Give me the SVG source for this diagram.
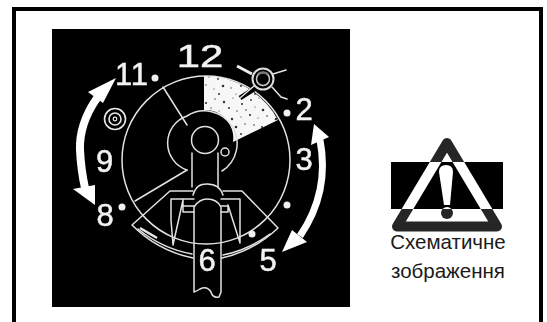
<svg xmlns="http://www.w3.org/2000/svg" width="547" height="322" viewBox="0 0 547 322">
<style>
.ln{fill:none;stroke:#e2e2e2;stroke-width:1.5;stroke-linejoin:round;stroke-linecap:round}
.num{font-family:"Liberation Sans",Arial,sans-serif;font-size:31px;fill:#f2f2f2;stroke:#f2f2f2;stroke-width:.5;text-anchor:middle}
.ar{fill:none;stroke:#fff;stroke-width:8}
.ah{fill:#fff}
.dot{fill:#f0f0f0}
.cap{font-family:"Liberation Sans",Arial,sans-serif;font-size:20.500px;fill:#1a1a1a;text-anchor:middle}
.gap{fill:none;stroke:#000;stroke-width:5}
</style>
<defs>
<filter id="soft" x="-5%" y="-5%" width="110%" height="110%"><feGaussianBlur stdDeviation="0.4"/></filter>
<pattern id="stip" width="62" height="48" patternUnits="userSpaceOnUse">
<rect width="62" height="48" fill="#f7f7f7"/>
<g fill="#333">
<circle cx="3" cy="4" r=".9"/><circle cx="11" cy="2" r=".6"/><circle cx="20" cy="7" r="1.100"/><circle cx="29" cy="3" r=".7"/><circle cx="38" cy="6" r="1.200"/><circle cx="47" cy="2" r=".6"/><circle cx="56" cy="8" r="1"/>
<circle cx="7" cy="11" r=".6"/><circle cx="15" cy="14" r="1.300"/><circle cx="25" cy="12" r=".7"/><circle cx="33" cy="15" r=".6"/><circle cx="43" cy="12" r="1"/><circle cx="51" cy="15" r=".7"/><circle cx="60" cy="14" r=".8"/>
<circle cx="2" cy="19" r="1.100"/><circle cx="10" cy="22" r=".6"/><circle cx="19" cy="20" r=".8"/><circle cx="28" cy="23" r="1.300"/><circle cx="36" cy="21" r=".7"/><circle cx="46" cy="23" r="1.200"/><circle cx="55" cy="21" r=".6"/>
<circle cx="6" cy="29" r=".8"/><circle cx="14" cy="31" r="1"/><circle cx="23" cy="29" r=".6"/><circle cx="32" cy="31" r=".9"/><circle cx="41" cy="29" r=".6"/><circle cx="50" cy="31" r="1.300"/><circle cx="59" cy="28" r=".7"/>
<circle cx="3" cy="38" r=".6"/><circle cx="11" cy="40" r="1.200"/><circle cx="20" cy="37" r=".7"/><circle cx="28" cy="41" r=".6"/><circle cx="37" cy="38" r="1.300"/><circle cx="45" cy="40" r=".7"/><circle cx="55" cy="38" r="1"/>
<circle cx="7" cy="46" r=".9"/><circle cx="17" cy="45" r=".6"/><circle cx="33" cy="46" r="1"/><circle cx="50" cy="46" r=".6"/>
</g>
</pattern>
<clipPath id="inRect"><rect x="391" y="162" width="112" height="47"/></clipPath>
</defs>
<rect width="547" height="322" fill="#fff"/>
<path id="frame" d="M14 322V9H541V322" fill="none" stroke="#000" stroke-width="4"/>
<rect x="52" y="29" width="298" height="278" fill="#000"/>
<g id="dial" filter="url(#soft)">
<circle class="ln" cx="206" cy="160" r="84"/>
<path d="M204 76A84 84 0 0 1 278 120L233 142A28 28 0 0 0 204 110Z" fill="url(#stip)"/>
<path class="ln" d="M163 87L187 125M135 201L187 170"/>
</g>
<g id="symbol-x" filter="url(#soft)">
<circle cx="263" cy="79" r="13" fill="#000"/>
<path class="gap" d="M240 98L284 70M243 70L277 96"/>
<circle cx="263" cy="79" r="10.500" fill="#000" stroke="#ddd" stroke-width="2"/>
<circle cx="263" cy="79" r="6.500" fill="#000" stroke="#ccc" stroke-width="1.500"/>
<path d="M258 74Q263 71 268 74" fill="none" stroke="#777" stroke-width="2.500"/>
<path d="M237 66L252 74" stroke="#eee" stroke-width="3" fill="none"/>
<path class="ln" d="M272 87L281 97L287 99M273 74L286 70M254 86L240 98"/>
</g>
<g id="symbol-ring" filter="url(#soft)">
<circle cx="115" cy="119" r="10.500" fill="none" stroke="#e8e8e8" stroke-width="1.600"/>
<circle cx="115" cy="119" r="6" fill="none" stroke="#e8e8e8" stroke-width="1.600"/>
<circle cx="115" cy="119" r="1.800" fill="none" stroke="#eee" stroke-width="1.200"/>
</g>
<g id="bike" filter="url(#soft)">
<path class="ln" d="M187 170A28.500 28.500 0 0 1 187 116A28.500 28.500 0 0 1 222 171"/>
<circle class="ln" cx="205" cy="140" r="13.500"/>
<circle class="ln" cx="225" cy="152" r="4"/>
<path class="ln" d="M192 153V187M218 153V187"/>
<path class="ln" d="M193 258A120 120 0 0 1 132 225L170 191H193M222 258A120 120 0 0 0 278 228L242 191H223"/>
<path class="ln" d="M192 254A120 120 0 0 1 138 229M223 255A120 120 0 0 0 270 234"/>
<path class="ln" d="M193 195C196 186 200 184 207 184C214 184 220 186 223 195"/>
<path class="ln" d="M194 292V207C198 201 202 199 207 199C213 199 218 201 221 207V292L219 297C214 298 212 296 211 292C208 287 204 287 200 289Q197 291 194 292"/>
<path class="ln" d="M171 199V220L173 245L183 200M171 199L194 199M183 200V212H194M183 206H194"/>
<path class="ln" d="M240 199V243L228 205M240 199L221 199M228 205V212H221M228 206H221"/>
<path d="M140 228L157 238" stroke="#e8e8e8" stroke-width="2.500" fill="none"/>
<circle class="dot" cx="252" cy="234" r="3.500"/>
</g>
<g id="connectors" filter="url(#soft)">
<path class="ar" d="M97 98Q79 124 80 150Q81 170 85 188"/>
<polygon class="ah" points="116,78 88,92 103,103"/>
<polygon class="ah" points="95,205 73,189 95,185"/>
<path class="ar" style="stroke-width:7" d="M320 140Q330 192 300 236"/>
<polygon class="ah" points="314,124 311,145 329,137"/>
<polygon class="ah" points="282,252 292,230 307,242"/>
</g>
<g id="labels" filter="url(#soft)">
<text class="num" transform="translate(200 67) scale(1.350 1)">12</text>
<text class="num" x="132" y="85" letter-spacing="1">11</text>
<text class="num" x="104.500" y="172">9</text>
<text class="num" x="105" y="226">8</text>
<text class="num" x="304" y="120">2</text>
<text class="num" x="304" y="170">3</text>
<text class="num" x="268" y="271">5</text>
<text class="num" x="207" y="271">6</text>
<circle class="dot" cx="155" cy="78" r="3.500"/>
<circle class="dot" cx="287" cy="113" r="3.500"/>
<circle class="dot" cx="287" cy="205" r="3.500"/>
<circle class="dot" cx="122" cy="207" r="3.500"/>
</g>
<g id="warning">
<polygon points="447,143 397,226.500 497,226.500" fill="none" stroke="#262626" stroke-width="10" stroke-linejoin="round"/>
<path d="M439 172Q439 165 446 165Q453 165 453 172L450 205H444Z" fill="#262626"/>
<circle cx="447" cy="213" r="6" fill="#262626"/>
<rect x="391" y="162" width="112" height="47" fill="#000"/>
<g clip-path="url(#inRect)">
<polygon points="447,143 397,226.500 497,226.500" fill="none" stroke="#fff" stroke-width="10" stroke-linejoin="round"/>
<path d="M439 172Q439 165 446 165Q453 165 453 172L450 205H444Z" fill="#fff"/>
<circle cx="447" cy="213" r="6" fill="#fff"/>
</g>
<text class="cap" x="448" y="249">Схематичне</text>
<text class="cap" x="448" y="278">зображення</text>
</g>
</svg>
